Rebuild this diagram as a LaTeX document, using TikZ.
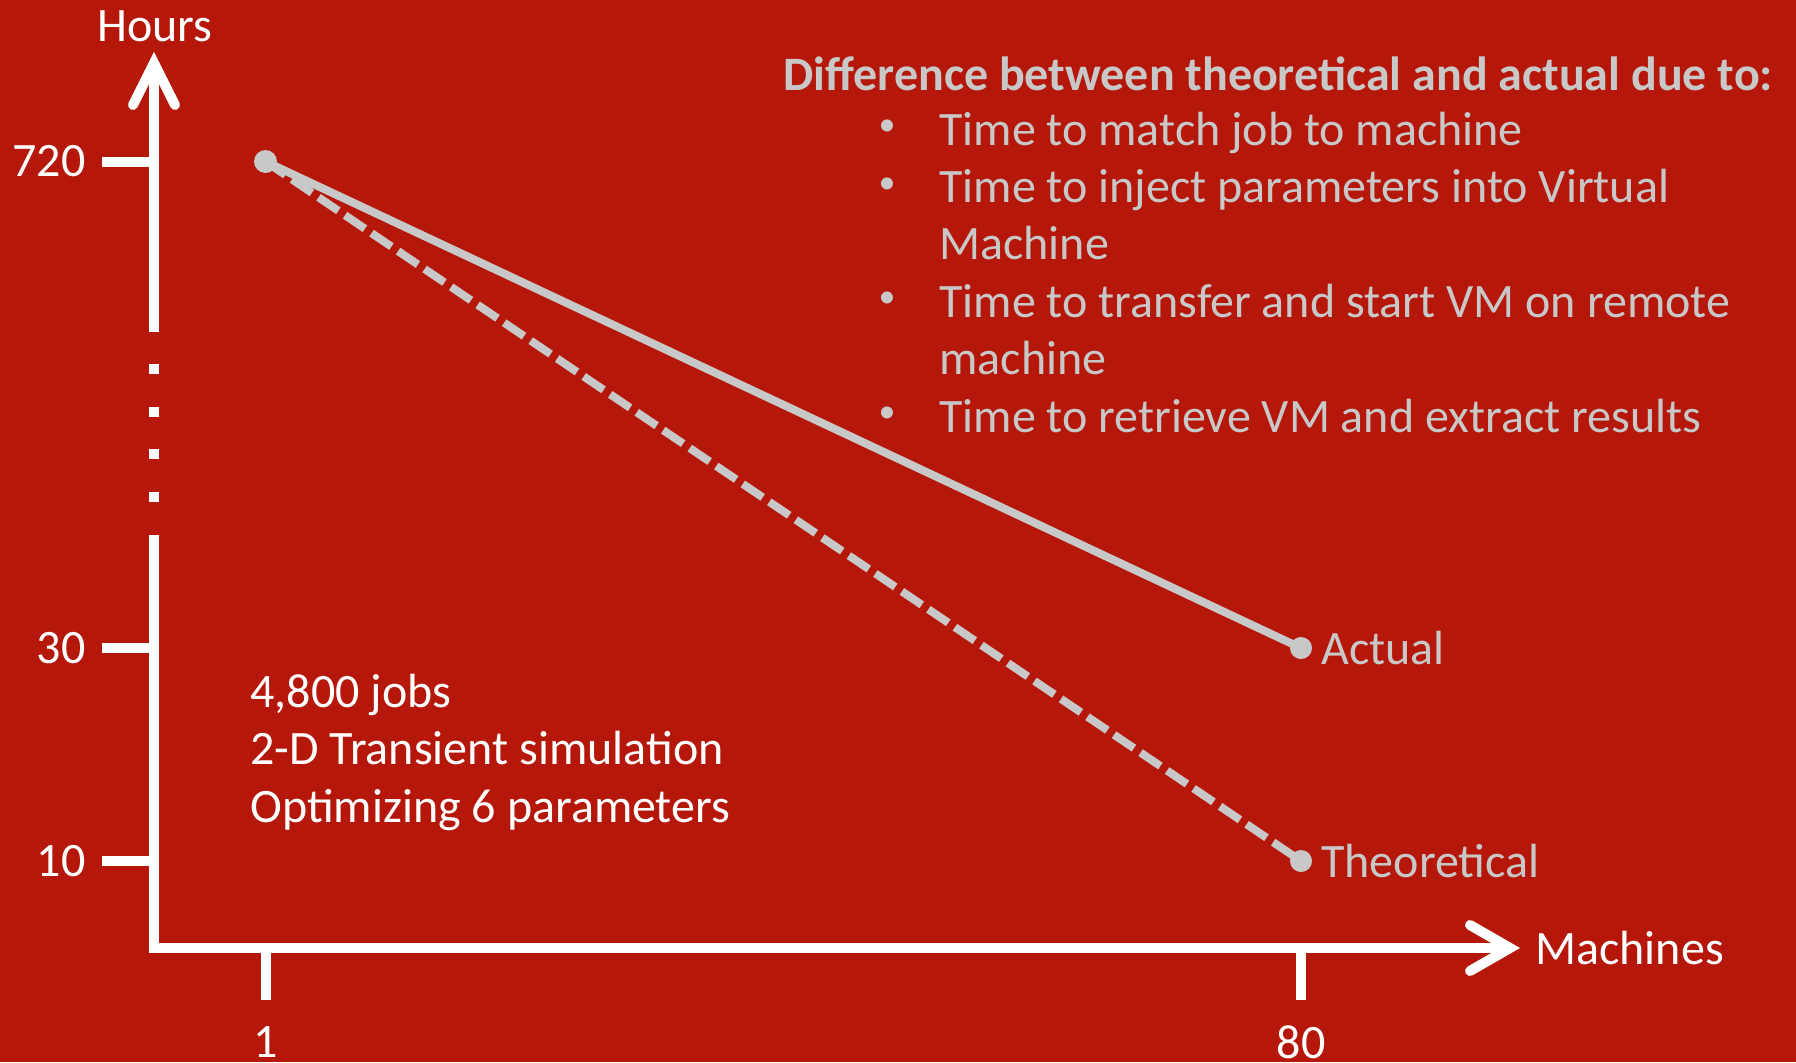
\documentclass[tikz,border=0pt]{standalone}
\usepackage{fontspec}
\setmainfont{Carlito}
\definecolor{bgred}{RGB}{181,24,10}
\definecolor{lgray}{RGB}{200,200,200}
\begin{document}
\begin{tikzpicture}[x=0.5pt,y=-0.5pt,
  axisline/.style={draw=white,line width=5pt},
  chevron/.style={draw=white,line width=5pt,line cap=round,line join=miter},
  tickline/.style={draw=white,line width=5pt},
  dataline/.style={draw=lgray,line width=4pt},
  dot/.style={fill=lgray},
  lbl/.style={inner sep=0pt,font=\fontsize{24}{28.7}\selectfont},
  wlbl/.style={lbl,text=white},
  glbl/.style={lbl,text=lgray},
  bul/.style={inner sep=0pt,text=lgray,font=\fontsize{17}{20}\selectfont},
  axdot/.style={fill=white}]
\useasboundingbox (0,0) rectangle (1796,1062);
\fill[bgred] (0,0) rectangle (1796,1062);
% axis coordinates
\coordinate (origin) at (154,948);
\coordinate (ytip) at (154,63);
\coordinate (ystop) at (154,72);
\coordinate (ybreakA) at (154,332);
\coordinate (ybreakB) at (154,535);
\coordinate (xstart) at (149,948);
\coordinate (xtip) at (1510,948);
\coordinate (xstop) at (1500,948);
% y axis
\draw[axisline] (ystop) -- (ybreakA);
\draw[axisline] (ybreakB) -- (154,953);
\foreach \yy in {369,412,454,497} \fill[axdot] (149,\yy-5) rectangle (159,\yy+5);
\draw[chevron] (133,105) -- (ytip) -- (175,105);
% x axis
\draw[axisline] (xstart) -- (xstop);
\draw[chevron] (1470,925) -- (xtip) -- (1470,971);
% y ticks
\coordinate (t720) at (102,161.5);
\coordinate (t30) at (102,648);
\coordinate (t10) at (102,861);
\draw[tickline] (t720) -- (154,161.5);
\draw[tickline] (t30) -- (154,648);
\draw[tickline] (t10) -- (154,861);
\node[wlbl,anchor=east] (l720) at (86,161.5) {720};
\node[wlbl,anchor=east] (l30) at (86,648) {30};
\node[wlbl,anchor=east] (l10) at (86,861) {10};
% x ticks
\coordinate (tx1) at (266,948);
\coordinate (tx80) at (1301,948);
\draw[tickline] (tx1) -- (266,1000);
\draw[tickline] (tx80) -- (1301,1000);
\node[wlbl] (lx1) at (266,1042) {1};
\node[wlbl] (lx80) at (1301,1042) {80};
% axis titles
\node[wlbl] (hours) at (155,26) {Hours};
\node[wlbl,anchor=west] (machines) at (1535,948) {Machines};
% data
\coordinate (p1) at (265.5,161.5);
\coordinate (pa) at (1301,648);
\coordinate (pt) at (1301,861);
\draw[dataline,dash pattern=on 12pt off 4pt] (p1) -- (pt);
\draw[dataline] (p1) -- (pa);
\fill[dot] (p1) circle[radius=5.75pt];
\fill[dot] (pa) circle[radius=5.5pt];
\fill[dot] (pt) circle[radius=5.5pt];
\node[glbl,anchor=west] (actual) at (1321,648) {Actual};
\node[glbl,anchor=west] (theo) at (1321,861) {Theoretical};
% left text
\node[wlbl,anchor=base west] (j1) at (250,707) {4,800 jobs};
\node[wlbl,anchor=base west] (j2) at (250,764.5) {2-D Transient simulation};
\node[wlbl,anchor=base west] (j3) at (250,822) {Optimizing 6 parameters};
% right list
\node[glbl,anchor=base west,font=\fontsize{24}{28.7}\selectfont\bfseries] (head) at (783,90) {Difference between theoretical and actual due to:};
\node[bul] (b1) at (887,128) {•};
\node[glbl,anchor=base west] (i1) at (939,145) {Time to match job to machine};
\node[bul] (b2) at (887,185.4) {•};
\node[glbl,anchor=base west] (i2) at (939,202.4) {Time to inject parameters into Virtual};
\node[glbl,anchor=base west] (i2b) at (939,259.8) {Machine};
\node[bul] (b3) at (887,300.2) {•};
\node[glbl,anchor=base west] (i3) at (939,317.2) {Time to transfer and start VM on remote};
\node[glbl,anchor=base west] (i3b) at (939,374.6) {machine};
\node[bul] (b4) at (887,415) {•};
\node[glbl,anchor=base west] (i4) at (939,432) {Time to retrieve VM and extract results};
\end{tikzpicture}
\end{document}
